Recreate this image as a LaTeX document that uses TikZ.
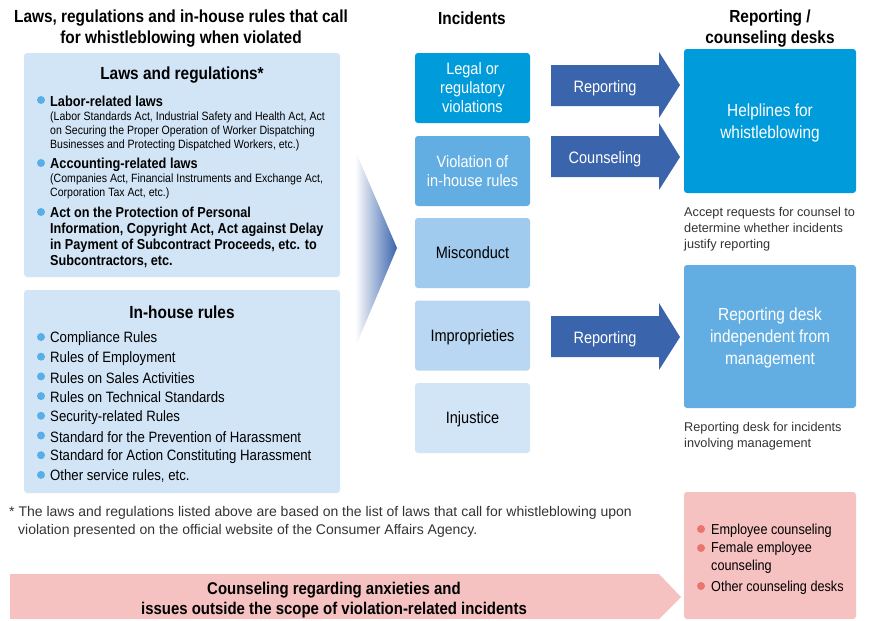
\documentclass[tikz,border=0pt]{standalone}
\usepackage{fontspec}
\setmainfont{Liberation Sans}[FakeStretch=0.88]
\newfontfamily\plainfont{Liberation Sans}
\usetikzlibrary{positioning}

\definecolor{cyanblue}{HTML}{009BDB}
\definecolor{midblue}{HTML}{62AEE2}
\definecolor{softblue}{HTML}{A0CAEE}
\definecolor{lightblue}{HTML}{B9D7F2}
\definecolor{paleblue}{HTML}{D2E5F7}
\definecolor{arrowblue}{HTML}{3A64AC}
\definecolor{softpink}{HTML}{F6C1C1}
\definecolor{dotblue}{HTML}{5AAEE6}
\definecolor{dotred}{HTML}{E8766D}
\definecolor{captiongray}{HTML}{333333}

\begin{document}
\begin{tikzpicture}[x=1pt, y=-1pt,
    every node/.style={inner sep=0pt, text=black},
    % Column headers
    header/.style={font=\fontsize{17.5}{21}\selectfont\bfseries, align=center, yshift=-2pt},
    % Light panels on the left
    panel/.style={rectangle, rounded corners=3pt, fill=paleblue, minimum width=316},
    % Incident boxes
    incident/.style={rectangle, rounded corners=3pt, minimum width=115, minimum height=70,
        align=center, text depth=0pt, font=\fontsize{16.5}{19}\selectfont},
    % Desk boxes
    desk/.style={rectangle, rounded corners=3pt, minimum width=172,
        align=center, text depth=0pt, font=\fontsize{17.5}{22}\selectfont},
    % Bullet list items
    item/.style={anchor=west, yshift=-1.5pt, font=\fontsize{15}{17}\selectfont},
    subitem/.style={anchor=north west, align=left, yshift=-1.5pt, font=\fontsize{12}{14}\selectfont},
    % Bullet dots
    bdot/.style={fill=dotblue},
    % Block arrows
    blockarr/.style={fill=arrowblue},
    arrlabel/.style={text=white, yshift=-2pt, font=\fontsize{16.5}{19}\selectfont},
    % Small gray captions
    caption/.style={anchor=north west, align=left, text=captiongray, yshift=-3pt,
        font=\plainfont\fontsize{12.7}{16}\selectfont},
]
\useasboundingbox (0,0) rectangle (870,621);

% ============================================================
% HEADERS
% ============================================================
\node[header] (hLaws) at (181,27) {Laws, regulations and in-house rules that call\\for whistleblowing when violated};
\node[header] (hInc) at (472,16) {Incidents};
\node[header] (hDesk) at (770,27) {Reporting /\\counseling desks};

% ============================================================
% SECTION 1: Laws and regulations panel
% ============================================================
\node[panel, minimum height=224] (lawsBox) at (182,165) {};
\node[header] (lawsTitle) at (182,73) {Laws and regulations*};

\fill[bdot] (41,100) circle (4);
\node[item, font=\fontsize{14.5}{17}\selectfont\bfseries] (lawLabor) at (50,100) {Labor-related laws};
\node[subitem] (lawLaborSub) at (50,110) {(Labor Standards Act, Industrial Safety and Health Act, Act\\on Securing the Proper Operation of Worker Dispatching\\Businesses and Protecting Dispatched Workers, etc.)};

\fill[bdot] (41,163) circle (4);
\node[item, font=\fontsize{14.5}{17}\selectfont\bfseries] (lawAcc) at (50,163) {Accounting-related laws};
\node[subitem] (lawAccSub) at (50,172) {(Companies Act, Financial Instruments and Exchange Act,\\Corporation Tax Act, etc.)};

\fill[bdot] (41,212) circle (4);
\node[subitem, font=\fontsize{14.4}{16}\selectfont\bfseries] (lawAct) at (50,205)
    {Act on the Protection of Personal\\Information, Copyright Act, Act against Delay\\in Payment of Subcontract Proceeds, etc. to\\Subcontractors, etc.};

% ============================================================
% SECTION 2: In-house rules panel
% ============================================================
\node[panel, minimum height=203] (rulesBox) at (182,391.5) {};
\node[header] (rulesTitle) at (182,310) {In-house rules};

\foreach \txt [count=\i from 0] in {Compliance Rules, Rules of Employment,
    Rules on Sales Activities, Rules on Technical Standards, Security-related Rules,
    Standard for the Prevention of Harassment, Standard for Action Constituting Harassment,
    {Other service rules, etc.}} {
  \fill[bdot] (41,337+19.7*\i) circle (4);
  \node[item] (rule\i) at (50,337+19.7*\i) {\txt};
}

% Big chevron towards the incidents
\shade[left color=white, middle color=arrowblue, right color=arrowblue]
    (355,150) -- (397,248) -- (355,348) -- cycle;

% ============================================================
% SECTION 3: Incidents
% ============================================================
\node[incident, fill=cyanblue, text=white] (incLegal) at (472.5,88) {Legal or\\regulatory\\violations};
\node[incident, fill=midblue, text=white] (incRules) at (472.5,171) {Violation of\\in-house rules};
\node[incident, fill=softblue] (incMisc) at (472.5,253) {Misconduct};
\node[incident, fill=lightblue] (incImp) at (472.5,335.5) {Improprieties};
\node[incident, fill=paleblue] (incInj) at (472.5,418) {Injustice};

% Block arrows
\fill[blockarr] (551,65) -- (659,65) -- (659,52) -- (680,85) -- (659,118) -- (659,106) -- (551,106) -- cycle;
\node[arrlabel] (arrRep1) at (605,86) {Reporting};
\fill[blockarr] (551,136) -- (659,136) -- (659,123) -- (680,157) -- (659,190) -- (659,177) -- (551,177) -- cycle;
\node[arrlabel] (arrCoun) at (605,157) {Counseling};
\fill[blockarr] (551,316) -- (659,316) -- (659,303) -- (680,337) -- (659,370) -- (659,357) -- (551,357) -- cycle;
\node[arrlabel] (arrRep2) at (605,337) {Reporting};

% ============================================================
% SECTION 4: Reporting / counseling desks
% ============================================================
\node[desk, fill=cyanblue, text=white, minimum height=144] (deskHelp) at (770,121) {Helplines for\\whistleblowing};
\node[caption] (capHelp) at (684,204) {Accept requests for counsel to\\determine whether incidents\\justify reporting};

\node[desk, fill=midblue, text=white, minimum height=143] (deskIndep) at (770,336.5) {Reporting desk\\independent from\\management};
\node[caption] (capIndep) at (684,419) {Reporting desk for incidents\\involving management};

% ============================================================
% FOOTNOTE AND COUNSELING ROW
% ============================================================
\node[caption, text=black!80, font=\plainfont\fontsize{14}{18}\selectfont] (footnote) at (9,503)
    {* The laws and regulations listed above are based on the list of laws that call for whistleblowing upon\\
    \hspace*{9pt}violation presented on the official website of the Consumer Affairs Agency.};

\fill[softpink] (10,574) -- (659,574) -- (681,597) -- (659,619) -- (10,619) -- cycle;
\node[header, font=\fontsize{17}{20}\selectfont\bfseries] (counBar) at (334,598)
    {Counseling regarding anxieties and\\issues outside the scope of violation-related incidents};

\node[desk, fill=softpink, minimum height=127] (deskCoun) at (770,555.5) {};
\fill[dotred] (701,529) circle (4);
\node[item, font=\fontsize{14.4}{17}\selectfont] (counEmp) at (711,529) {Employee counseling};
\fill[dotred] (701,548) circle (4);
\node[item, anchor=north west, align=left, font=\fontsize{14.4}{18}\selectfont] (counFem) at (711,540) {Female employee\\counseling};
\fill[dotred] (701,586) circle (4);
\node[item, font=\fontsize{14.4}{17}\selectfont] (counOther) at (711,586) {Other counseling desks};

\end{tikzpicture}
\end{document}
